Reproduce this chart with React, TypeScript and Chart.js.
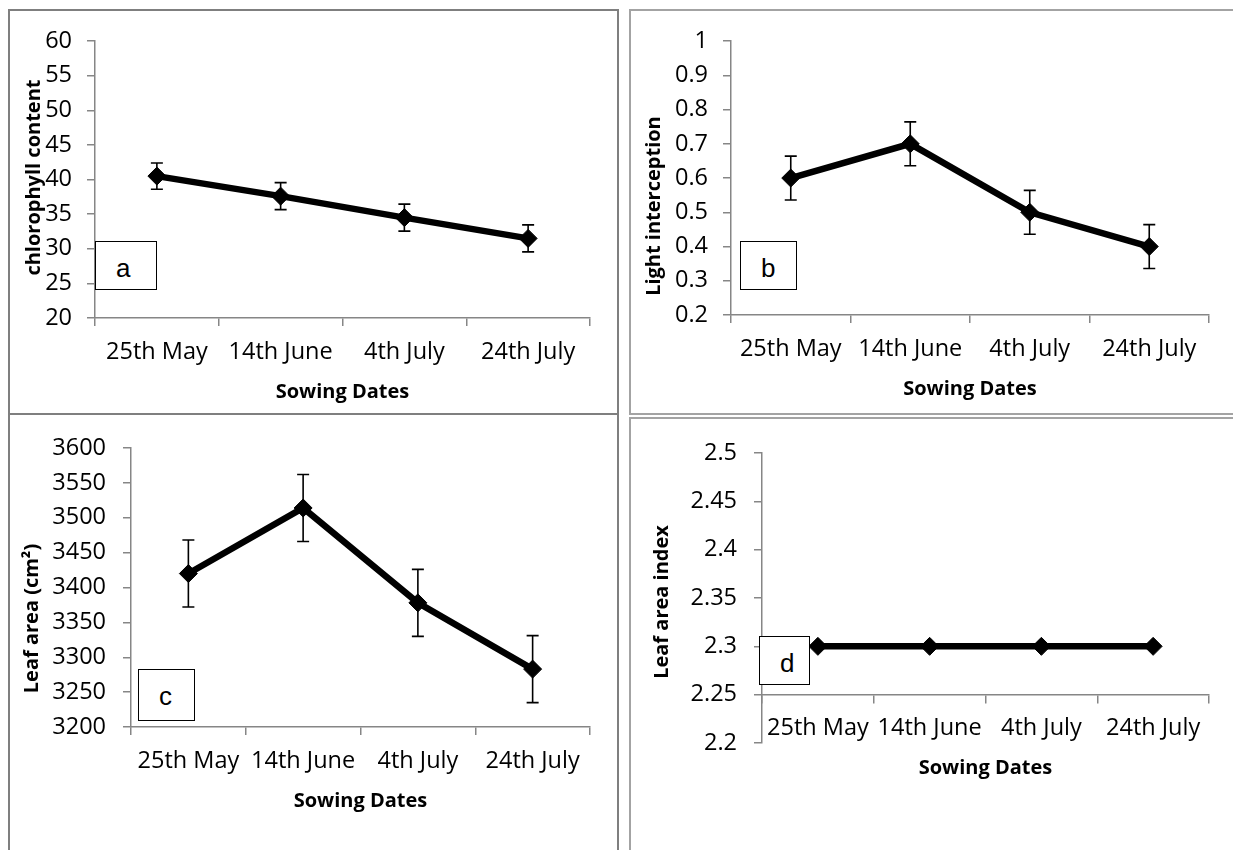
import React, { useEffect, useRef } from "react";
import { Chart, registerables } from "chart.js";

Chart.register(...registerables);

// ---------- data ----------
const categories = ["25th May", "14th June", "4th July", "24th July"];

const chlorophyllContent = [40.5, 37.6, 34.5, 31.5];
const chlorophyllError = [1.9, 1.95, 1.95, 1.95];
const chlorophyllTicks = [20, 25, 30, 35, 40, 45, 50, 55, 60];

const lightInterception = [0.6, 0.7, 0.5, 0.4];
const lightError = [0.064, 0.064, 0.064, 0.064];
const lightTicks = [0.2, 0.3, 0.4, 0.5, 0.6, 0.7, 0.8, 0.9, 1];

const leafArea = [3420, 3514, 3378, 3283];
const leafAreaError = [48, 48, 48, 48];
const leafAreaTicks = [3200, 3250, 3300, 3350, 3400, 3450, 3500, 3550, 3600];

const leafAreaIndex = [2.3, 2.3, 2.3, 2.3];
const leafAreaIndexTicks = [2.2, 2.25, 2.3, 2.35, 2.4, 2.45, 2.5];

const AXIS = "#868686";
const TICK_FONT = { family: "'Open Sans', sans-serif", size: 23.5 };
const TITLE_FONT = "bold 20px 'Open Sans', sans-serif";

// ---------- plugins ----------
const errorBarPlugin = {
  id: "errorBars",
  afterDatasetsDraw(chart: any, _args: any, opts: any) {
    const errs: number[] | undefined = opts && opts.errors;
    if (!errs) return;
    const meta = chart.getDatasetMeta(0);
    const ys = chart.scales.y;
    const values = chart.data.datasets[0].data as number[];
    const ctx = chart.ctx;
    const cap = 6;
    ctx.save();
    ctx.strokeStyle = "#000";
    ctx.lineWidth = 1.6;
    meta.data.forEach((pt: any, i: number) => {
      const top = ys.getPixelForValue(values[i] + errs[i]);
      const bot = ys.getPixelForValue(values[i] - errs[i]);
      ctx.beginPath();
      ctx.moveTo(pt.x, top);
      ctx.lineTo(pt.x, bot);
      ctx.moveTo(pt.x - cap, top);
      ctx.lineTo(pt.x + cap, top);
      ctx.moveTo(pt.x - cap, bot);
      ctx.lineTo(pt.x + cap, bot);
      ctx.stroke();
    });
    ctx.restore();
  },
};

const axisTitlePlugin = {
  id: "axisTitles",
  afterDraw(chart: any, _args: any, opts: any) {
    if (!opts || !opts.xText) return;
    const { ctx, chartArea } = chart;
    const ys = chart.scales.y;
    const axisY =
      opts.axisValue !== undefined ? ys.getPixelForValue(opts.axisValue) : chartArea.bottom;
    ctx.save();
    ctx.font = TITLE_FONT;
    ctx.fillStyle = "#000";
    ctx.textAlign = "center";
    ctx.textBaseline = "middle";
    ctx.fillText(opts.xText, (chartArea.left + chartArea.right) / 2, axisY + opts.xGap);
    ctx.translate(chartArea.left - opts.yGap, (chartArea.top + chartArea.bottom) / 2 + opts.yShift);
    ctx.rotate(-Math.PI / 2);
    ctx.fillText(opts.yText, 0, 0);
    ctx.restore();
  },
};

// ---------- panel component ----------
type PanelProps = {
  values: number[];
  errors?: number[];
  ticks: number[];
  yTitle: string;
  width: number;
  height: number;
  left: number;
  top: number;
  pad: { top: number; right: number; bottom: number };
  yWidth: number;
  xHeight?: number;
  yPad: number;
  xAxisAt?: number;
  yGap: number;
  yShift: number;
};

function Panel(p: PanelProps) {
  const ref = useRef<HTMLCanvasElement | null>(null);
  useEffect(() => {
    if (!ref.current) return;
    const step = Number((p.ticks[1] - p.ticks[0]).toFixed(6));
    const chart = new Chart(ref.current, {
      type: "line",
      data: {
        labels: categories,
        datasets: [
          {
            data: p.values,
            borderColor: "#000",
            backgroundColor: "#000",
            borderWidth: 6.5,
            pointStyle: "rectRot",
            pointRadius: 9,
            pointBorderWidth: 1,
            pointBackgroundColor: "#000",
            pointBorderColor: "#000",
            tension: 0,
            fill: false,
          },
        ],
      },
      plugins: [errorBarPlugin, axisTitlePlugin],
      options: {
        animation: false,
        responsive: false,
        maintainAspectRatio: false,
        events: [],
        layout: { padding: { left: 0, top: p.pad.top, right: p.pad.right, bottom: p.pad.bottom } },
        plugins: {
          legend: { display: false },
          tooltip: { enabled: false },
          errorBars: { errors: p.errors },
          axisTitles: {
            xText: "Sowing Dates",
            yText: p.yTitle,
            xGap: 74,
            yGap: p.yGap,
            yShift: p.yShift,
            axisValue: p.xAxisAt,
          },
        } as any,
        scales: {
          x: {
            type: "category",
            offset: true,
            position: (p.xAxisAt !== undefined ? { y: p.xAxisAt } : "bottom") as any,
            grid: {
              display: true,
              drawOnChartArea: false,
              drawTicks: true,
              tickLength: 8,
              offset: true,
              color: AXIS,
              lineWidth: 1.5,
            },
            border: { display: true, color: AXIS, width: 1.5 },
            ticks: {
              color: "#000",
              font: TICK_FONT,
              padding: 12,
              maxRotation: 0,
              autoSkip: false,
            },
            afterFit: (s: any) => {
              if (p.xHeight !== undefined) s.height = p.xHeight;
            },
          },
          y: {
            min: p.ticks[0],
            max: p.ticks[p.ticks.length - 1],
            grid: {
              display: true,
              drawOnChartArea: false,
              drawTicks: true,
              tickLength: 8,
              color: AXIS,
              lineWidth: 1.5,
            },
            border: { display: true, color: AXIS, width: 1.5 },
            ticks: {
              stepSize: step,
              color: "#000",
              font: TICK_FONT,
              padding: p.yPad,
              callback: (v: any) => String(Number(Number(v).toFixed(4))),
            },
            afterFit: (s: any) => {
              s.width = p.yWidth;
            },
          },
        },
      },
    });
    return () => chart.destroy();
  }, []);
  return (
    <canvas
      ref={ref}
      width={p.width}
      height={p.height}
      style={{ position: "absolute", left: p.left, top: p.top, width: p.width, height: p.height }}
    />
  );
}

function Line(props: { l: number; t: number; w: number; h: number; c: string }) {
  return (
    <div
      style={{
        position: "absolute",
        left: props.l,
        top: props.t,
        width: props.w,
        height: props.h,
        background: props.c,
      }}
    />
  );
}

function Tag(props: { l: number; t: number; w: number; h: number; text: string }) {
  return (
    <div
      style={{
        position: "absolute",
        left: props.l,
        top: props.t,
        width: props.w,
        height: props.h,
        boxSizing: "border-box",
        border: "1.5px solid #000",
        background: "#fff",
        fontFamily: "'Liberation Sans', Arial, sans-serif",
        fontSize: 26,
        lineHeight: "26px",
        paddingLeft: 20,
        paddingTop: 13,
        color: "#000",
      }}
    >
      {props.text}
    </div>
  );
}

export default function App() {
  const dark = "#7f7f7f";
  const light = "#a3a3a3";
  return (
    <div
      style={{
        position: "absolute",
        left: 0,
        top: 0,
        width: 1233,
        height: 850,
        overflow: "hidden",
        background: "#fff",
      }}
    >
      <Panel
        values={chlorophyllContent}
        errors={chlorophyllError}
        ticks={chlorophyllTicks}
        yTitle="chlorophyll content"
        left={10}
        top={12}
        width={606}
        height={400}
        pad={{ top: 16, right: 26, bottom: 0 }}
        yWidth={85}
        xHeight={94}
        yPad={15}
        yGap={61}
        yShift={-2}
      />
      <Panel
        values={lightInterception}
        errors={lightError}
        ticks={lightTicks}
        yTitle="Light interception"
        left={632}
        top={12}
        width={601}
        height={400}
        pad={{ top: 16, right: 24, bottom: 0 }}
        yWidth={99}
        xHeight={97}
        yPad={15}
        yGap={77}
        yShift={28}
      />
      <Panel
        values={leafArea}
        errors={leafAreaError}
        ticks={leafAreaTicks}
        yTitle="Leaf area (cm²)"
        left={10}
        top={415}
        width={606}
        height={435}
        pad={{ top: 33, right: 26, bottom: 0 }}
        yWidth={121}
        xHeight={123}
        yPad={17}
        yGap={99}
        yShift={31}
      />
      <Panel
        values={leafAreaIndex}
        ticks={leafAreaIndexTicks}
        yTitle="Leaf area index"
        left={632}
        top={420}
        width={601}
        height={430}
        pad={{ top: 33, right: 24, bottom: 107 }}
        yWidth={130}
        yPad={17}
        xAxisAt={2.25}
        yGap={100}
        yShift={4}
      />

      <Line l={8} t={9} w={2} h={841} c={dark} />
      <Line l={8} t={9} w={611} h={2} c={dark} />
      <Line l={617} t={9} w={2} h={841} c={dark} />
      <Line l={8} t={413} w={611} h={2} c={dark} />
      <Line l={629} t={9} w={2} h={405} c={light} />
      <Line l={629} t={9} w={604} h={2} c={light} />
      <Line l={629} t={413} w={604} h={2} c={light} />
      <Line l={629} t={417} w={604} h={2} c={light} />
      <Line l={629} t={417} w={2} h={433} c={light} />

      <Tag l={95} t={241} w={62} h={49} text="a" />
      <Tag l={740} t={241} w={57} h={49} text="b" />
      <Tag l={138} t={669} w={57} h={52} text="c" />
      <Tag l={759} t={636} w={51} h={49} text="d" />
    </div>
  );
}
